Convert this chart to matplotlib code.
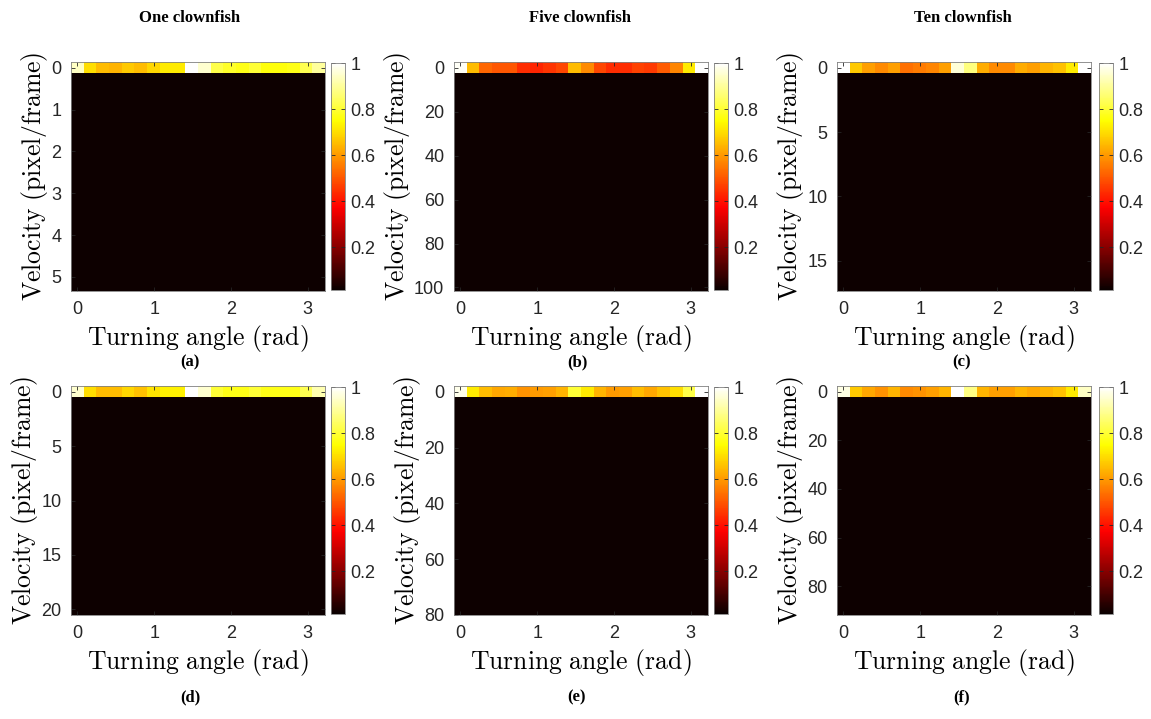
import numpy as np
import matplotlib
matplotlib.use("Agg")
import matplotlib.pyplot as plt

plt.rcParams['mathtext.fontset'] = 'cm'

# ---- data -------------------------------------------------------------
column_titles = ["One clownfish", "Five clownfish", "Ten clownfish"]
panel_tags = ["(a)", "(b)", "(c)", "(d)", "(e)", "(f)"]

n_angle_bins = 20
n_velocity_bins = 20

# maximum velocity bin centre for each panel (pixel/frame)
velocity_max = [5.2, 99.0, 16.9, 20.0, 78.0, 89.5]

# y tick values for each panel
yticks_list = [
    [0, 1, 2, 3, 4, 5],
    [0, 20, 40, 60, 80, 100],
    [0, 5, 10, 15],
    [0, 5, 10, 15, 20],
    [0, 20, 40, 60, 80],
    [0, 20, 40, 60, 80],
]

# first (lowest velocity) row of each normalised histogram
top_row_a = [0.94, 0.70, 0.65, 0.64, 0.67, 0.65, 0.69, 0.72, 0.72, 1.00,
             0.95, 0.82, 0.79, 0.77, 0.80, 0.76, 0.76, 0.77, 0.83, 0.90]
top_row_b = [0.99, 0.65, 0.525, 0.50, 0.50, 0.44, 0.43, 0.45, 0.48, 0.65,
             0.58, 0.48, 0.44, 0.44, 0.47, 0.46, 0.51, 0.57, 0.72, 1.00]
top_row_c = [1.00, 0.67, 0.61, 0.58, 0.61, 0.54, 0.555, 0.57, 0.61, 0.96,
             0.87, 0.63, 0.58, 0.58, 0.63, 0.61, 0.64, 0.66, 0.72, 1.00]
top_row_d = [0.95, 0.70, 0.65, 0.65, 0.69, 0.66, 0.71, 0.73, 0.73, 1.00,
             0.95, 0.80, 0.77, 0.77, 0.80, 0.77, 0.77, 0.77, 0.83, 0.92]
top_row_e = [0.98, 0.72, 0.65, 0.62, 0.63, 0.59, 0.60, 0.61, 0.64, 0.80,
             0.72, 0.64, 0.60, 0.61, 0.65, 0.62, 0.66, 0.70, 0.82, 1.00]
top_row_f = [0.97, 0.67, 0.62, 0.59, 0.64, 0.58, 0.59, 0.61, 0.64, 1.00,
             0.88, 0.64, 0.61, 0.61, 0.64, 0.62, 0.64, 0.66, 0.72, 0.94]
top_rows = [top_row_a, top_row_b, top_row_c, top_row_d, top_row_e, top_row_f]

# near-zero level of all the higher velocity rows
background_level = [0.020, 0.019, 0.020, 0.020, 0.020, 0.020]
color_min = 0.015

# ---- layout -----------------------------------------------------------
W, H = 1151, 719
fig = plt.figure(figsize=(W / 100, H / 100), dpi=100)

ax_lefts = [71, 454, 837]
ax_width = 254
cb_lefts = [331, 714, 1099]
cb_width = 14
row_tops = [62, 386]
ax_height = 229

tick_font = dict(family='Liberation Sans', size=13)
lab_font = 18.5
ink = '#262626'

angle_centres = np.linspace(0, np.pi, n_angle_bins)
dx = angle_centres[1] - angle_centres[0]

for i in range(6):
    r, c = divmod(i, 3)
    left = ax_lefts[c]
    top = row_tops[r]
    ax = fig.add_axes([left / W, 1 - (top + ax_height) / H, ax_width / W, ax_height / H])

    vel_centres = np.linspace(0, velocity_max[i], n_velocity_bins)
    dy = vel_centres[1] - vel_centres[0]
    Z = np.full((n_velocity_bins, n_angle_bins), background_level[i])
    Z[0, :] = top_rows[i]

    im = ax.imshow(Z, cmap='hot', vmin=color_min, vmax=1.0, aspect='auto',
                   interpolation='nearest', origin='upper',
                   extent=[angle_centres[0] - dx / 2, angle_centres[-1] + dx / 2,
                           vel_centres[-1] + dy / 2, vel_centres[0] - dy / 2])
    ax.set_xticks([0, 1, 2, 3])
    ax.set_yticks(yticks_list[i])
    ax.tick_params(direction='in', top=True, right=True, length=3, width=0.6,
                   color=ink, labelcolor=ink, pad=7)
    for lab in ax.get_xticklabels() + ax.get_yticklabels():
        lab.set_fontfamily(tick_font['family'])
        lab.set_fontsize(tick_font['size'])
    for s in ax.spines.values():
        s.set_color('#808080')
        s.set_linewidth(0.6)
    ax.set_xlabel(r'$\mathrm{Turning\ angle\ (rad)}$', fontsize=lab_font, labelpad=4)
    ax.set_ylabel(r'$\mathrm{Velocity\ (pixel/frame)}$', fontsize=lab_font, labelpad=1)

    cax = fig.add_axes([cb_lefts[c] / W, 1 - (top + ax_height - 1) / H, cb_width / W, (ax_height - 2) / H])
    cb = fig.colorbar(im, cax=cax)
    cb.set_ticks([0.2, 0.4, 0.6, 0.8, 1.0])
    cb.set_ticklabels(['0.2', '0.4', '0.6', '0.8', '1'])
    cax.tick_params(direction='in', left=True, right=True, length=3, width=0.6,
                    color=ink, labelcolor=ink, pad=4)
    for lab in cax.get_yticklabels():
        lab.set_fontfamily(tick_font['family'])
        lab.set_fontsize(tick_font['size'])
    cb.outline.set_edgecolor('#808080')
    cb.outline.set_linewidth(0.6)

# column titles
title_x = [190, 580, 963]
for c in range(3):
    fig.text(title_x[c] / W, 1 - 18 / H, column_titles[c], ha='center', va='center',
             family='Liberation Serif', weight='bold', fontsize=12)

# panel tags
tag_x = [190, 577, 962]
tag_y = [362, 697]
for i in range(6):
    r, c = divmod(i, 3)
    fig.text(tag_x[c] / W, 1 - tag_y[r] / H, panel_tags[i], ha='center', va='center',
             family='Liberation Serif', weight='bold', fontsize=12)

fig.savefig('out.png', dpi=100)
